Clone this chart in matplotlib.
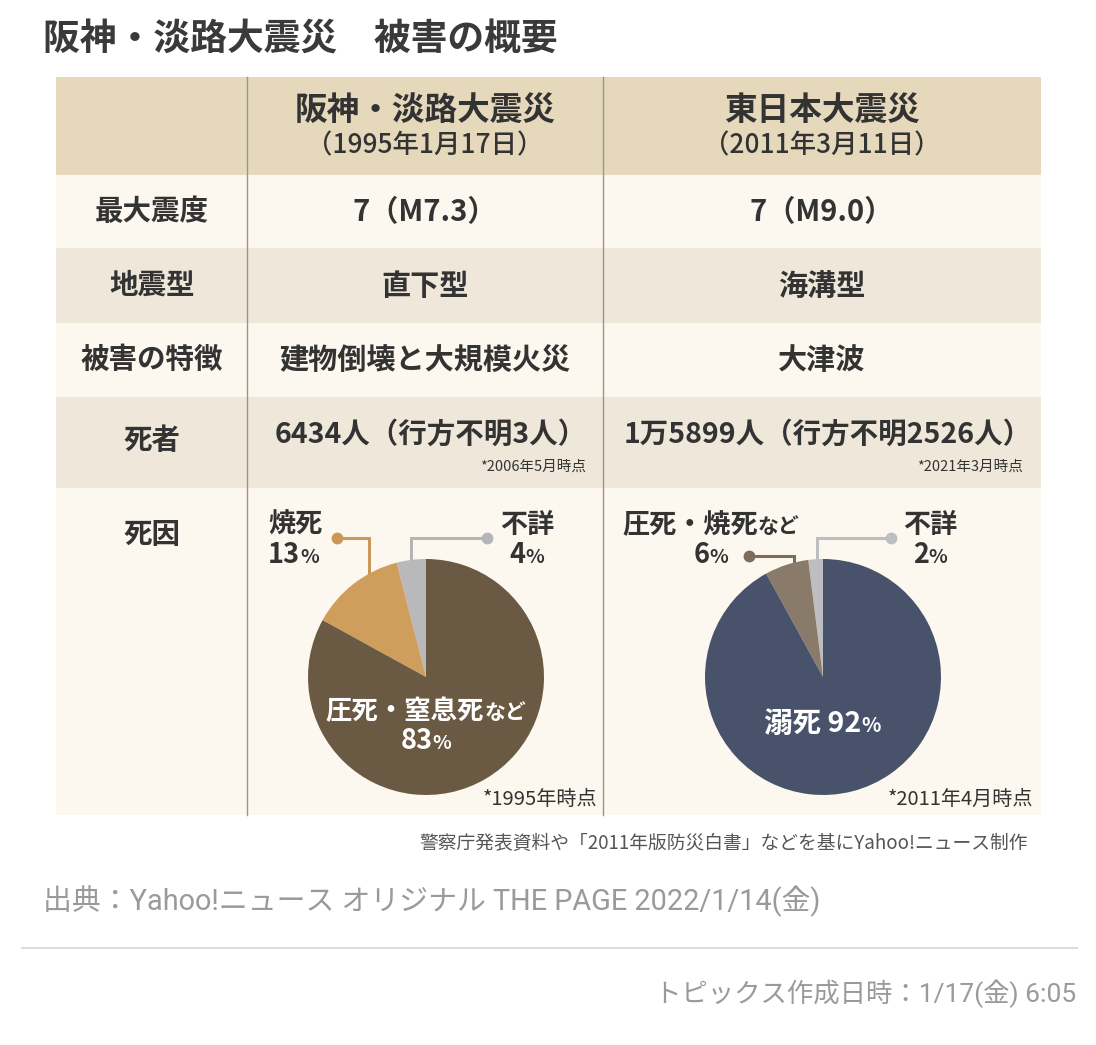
import matplotlib
matplotlib.use("Agg")
import matplotlib.pyplot as plt

plt.rcParams["font.family"] = ["Noto Sans CJK JP", "DejaVu Sans"]

# ── Data ─────────────────────────────────────────────────────────────────────
TITLE = "阪神・淡路大震災　被害の概要"
QUAKES = ["阪神・淡路大震災", "東日本大震災"]
QUAKE_DATES = ["（1995年1月17日）", "（2011年3月11日）"]
ROW_LABELS = ["最大震度", "地震型", "被害の特徴", "死者", "死因"]
MAX_INTENSITY = ["7（M7.3）", "7（M9.0）"]
QUAKE_TYPE = ["直下型", "海溝型"]
DAMAGE = ["建物倒壊と大規模火災", "大津波"]
DEATHS = ["6434人（行方不明3人）", "1万5899人（行方不明2526人）"]
DEATHS_NOTE = ["*2006年5月時点", "*2021年3月時点"]

# pie shares, counterclockwise from 12 o'clock: 不詳, minor cause, main cause
HANSHIN_CAUSES = ["不詳", "焼死", "圧死・窒息死など"]
HANSHIN_PCT = [4, 13, 83]
TOHOKU_CAUSES = ["不詳", "圧死・焼死など", "溺死"]
TOHOKU_PCT = [2, 6, 92]
PIE_NOTES = ["*1995年時点", "*2011年4月時点"]

SOURCE = "警察庁発表資料や「2011年版防災白書」などを基にYahoo!ニュース制作"
CREDIT = "出典：Yahoo!ニュース オリジナル THE PAGE 2022/1/14(金)"
STAMP = "トピックス作成日時：1/17(金) 6:05"

# ── Style ────────────────────────────────────────────────────────────────────
TEXT = "#333333"
HEAD_BG = "#e6d9bb"
LIGHT_BG = "#fdf8ef"
DARK_BG = "#efe7da"
GRID = "#9d9483"
HANSHIN_COLORS = ["#b9b9bb", "#cf9d5c", "#6b5a43"]
TOHOKU_COLORS = ["#bdbec1", "#8a7a69", "#48536b"]

W, H = 1096, 1045
fig = plt.figure(figsize=(W / 100, H / 100), dpi=100)
fig.patch.set_facecolor("white")
ax = fig.add_axes([0, 0, 1, 1])
ax.set_xlim(0, W)
ax.set_ylim(H, 0)
ax.axis("off")
renderer = fig.canvas.get_renderer()


def put_runs(x, y, runs, ha="center", color=TEXT, weight="bold", target=None):
    """Draw text pieces of different sizes side by side on one baseline."""
    target = target or ax
    arts = [target.text(0, y, s, fontsize=fs, color=color, weight=weight,
                        va="baseline", ha="left", transform=ax.transData)
            for s, fs in runs]
    widths = [a.get_window_extent(renderer).width for a in arts]
    total = sum(widths)
    x0 = {"left": x, "center": x - total / 2, "right": x - total}[ha]
    for a, w in zip(arts, widths):
        a.set_x(x0)
        x0 += w


# ── Table background ─────────────────────────────────────────────────────────
L, R = 56, 1041
COL_X = [247, 603]
ROW_Y = [77, 175, 248, 323, 397, 488, 815]
ROW_BG = [HEAD_BG, LIGHT_BG, DARK_BG, LIGHT_BG, DARK_BG, LIGHT_BG]
for (y0, y1), bg in zip(zip(ROW_Y[:-1], ROW_Y[1:]), ROW_BG):
    ax.fill_between([L, R], y0, y1, color=bg, lw=0)
for cx in COL_X:
    ax.plot([cx, cx], [ROW_Y[0], ROW_Y[-1]], color=GRID, lw=1)

ax.text(43, 40, TITLE, fontsize=26.5, weight="bold", color="#3a3a3a",
        ha="left", va="center")

# header
col_c = [425, 822]
for cx, q, d in zip(col_c, QUAKES, QUAKE_DATES):
    ax.text(cx, 110, q, fontsize=23.5, weight="bold", color=TEXT,
            ha="center", va="center")
    ax.text(cx, 146, d, fontsize=19, weight="medium", color=TEXT,
            ha="center", va="center")

# row labels
label_y = [212, 286, 360, 441, 535]
for ly, lab in zip(label_y, ROW_LABELS):
    ax.text(152, ly, lab, fontsize=20.5, weight="bold", color=TEXT,
            ha="center", va="center")

for i, cx in enumerate(col_c):
    for yy, vals in zip([212, 286, 360], [MAX_INTENSITY, QUAKE_TYPE, DAMAGE]):
        ax.text(cx, yy, vals[i], fontsize=21, weight="bold", color=TEXT,
                ha="center", va="center")
    ax.text(cx + 6, 435, DEATHS[i], fontsize=20.5, weight="bold", color=TEXT,
            ha="center", va="center")
note_x = [586, 1023]
for nx, note in zip(note_x, DEATHS_NOTE):
    ax.text(nx, 467, note, fontsize=10.5, color=TEXT, ha="right", va="center")

# ── Pies ─────────────────────────────────────────────────────────────────────
PIE_R = 118
pie_centers = [(426, 677), (823, 677)]
pie_axes = []
for (cx, cy), vals, cols in zip(pie_centers,
                                [HANSHIN_PCT, TOHOKU_PCT],
                                [HANSHIN_COLORS, TOHOKU_COLORS]):
    pax = fig.add_axes([(cx - PIE_R) / W, 1 - (cy + PIE_R) / H,
                        2 * PIE_R / W, 2 * PIE_R / H])
    pax.pie(vals, colors=cols, startangle=90, counterclock=True,
            radius=1, wedgeprops=dict(linewidth=0))
    pax.set_xlim(-1, 1)
    pax.set_ylim(-1, 1)
    pax.axis("off")
    pie_axes.append(pax)


def leader(dot, corner, end, color):
    ax.plot([dot[0], corner[0], end[0]], [dot[1], corner[1], end[1]],
            color=color, lw=2.2, solid_joinstyle="miter")
    ax.plot(dot[0], dot[1], "o", color=color, markersize=7.5)


# Hanshin labels
leader((337, 538), (369, 538), (369, 572), "#c9985b")
leader((487, 538), (411, 538), (411, 561), "#b5b5b7")
put_runs(268, 533, [(HANSHIN_CAUSES[1], 19.5)], ha="left")
put_runs(268, 563, [(str(HANSHIN_PCT[1]), 19.5), ("%", 14)], ha="left")
put_runs(527, 533, [(HANSHIN_CAUSES[0], 19.5)])
put_runs(527, 563, [(str(HANSHIN_PCT[0]), 19.5), ("%", 14)])
put_runs(426, 719, [(HANSHIN_CAUSES[2][:-2], 19), (HANSHIN_CAUSES[2][-2:], 15)],
         color="white", target=pie_axes[0])
put_runs(426, 749, [(str(HANSHIN_PCT[2]), 19.5), ("%", 14)], color="white",
         target=pie_axes[0])

# Tohoku labels
leader((749, 556), (794, 556), (794, 563), "#7c6c5c")
leader((891, 538), (817, 538), (817, 561), "#bdbec1")
put_runs(711, 533, [(TOHOKU_CAUSES[1][:-2], 19.5), (TOHOKU_CAUSES[1][-2:], 15)])
put_runs(711, 563, [(str(TOHOKU_PCT[1]), 19.5), ("%", 14)])
put_runs(930, 533, [(TOHOKU_CAUSES[0], 19.5)])
put_runs(930, 563, [(str(TOHOKU_PCT[0]), 19.5), ("%", 14)])
put_runs(822, 732, [(TOHOKU_CAUSES[2] + " " + str(TOHOKU_PCT[2]), 20.5), ("%", 14.5)],
         color="white", target=pie_axes[1])

pie_note_x = [597, 1033]
for nx, note in zip(pie_note_x, PIE_NOTES):
    ax.text(nx, 805, note, fontsize=14.5, color=TEXT, ha="right", va="baseline")

# ── Footer ───────────────────────────────────────────────────────────────────
ax.text(1028, 849, SOURCE, fontsize=13.5, color="#555555", ha="right",
        va="baseline")
ax.text(43, 910, CREDIT, fontsize=20.8, color="#9a9a9a", ha="left",
        va="baseline", family=["Roboto", "Noto Sans CJK JP"])
ax.plot([22, 1077], [948, 948], color="#dddddd", lw=1.5)
ax.text(1076, 1002, STAMP, fontsize=19, color="#9a9a9a", ha="right",
        va="baseline", family=["Roboto", "Noto Sans CJK JP"])

fig.savefig("out.png", dpi=100)
